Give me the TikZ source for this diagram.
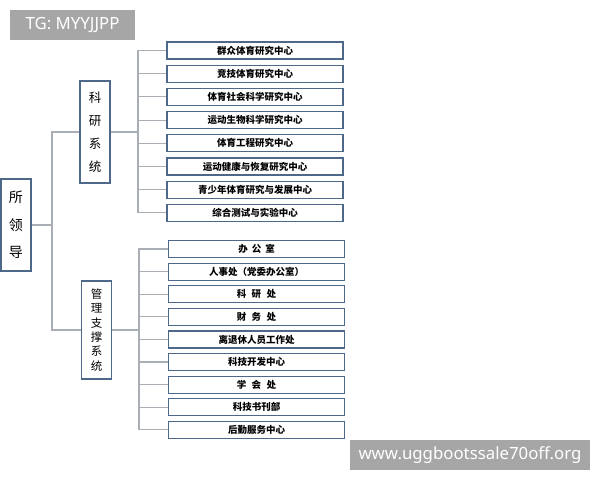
\documentclass[tikz,border=0pt]{standalone}
\usepackage{fontspec}
\newfontfamily\cjk{Noto Sans CJK SC}
\newfontfamily\wmfont{Noto Sans}
\definecolor{boxblue}{HTML}{4D6889}
\definecolor{linkgray}{HTML}{A9AEB4}
\definecolor{wmgray}{HTML}{A6A6A6}
\tikzset{
  leaf/.style={draw=boxblue, line width=1.2pt, fill=white, minimum width=176pt, minimum height=17pt, inner sep=0pt, font=\cjk\bfseries\fontsize{9.5}{10}\selectfont},
  sysbox/.style={draw=boxblue, line width=1.2pt, fill=white, minimum width=30pt, inner sep=0pt, align=center},
  link/.style={draw=linkgray, line width=1.1pt},
  mark box/.style={fill=wmgray, text=white, inner sep=0pt, font=\wmfont\fontsize{16.8}{17}\selectfont}
}
\begin{document}
\begin{tikzpicture}[x=1pt,y=-1pt]
\useasboundingbox (0,0) rectangle (600,480);
\node[mark box, minimum width=125pt, minimum height=30pt] (w1) at (72.5,25) {TG: MYYJJPP};
\node[mark box, minimum width=240pt, minimum height=30pt] (w2) at (470,455) {www.uggbootssale70off.org};
% leaders and systems
\node[sysbox, minimum height=92pt, font=\cjk\fontsize{14}{27.5}\selectfont] (s0) at (16,225) {所\\领\\导};
\node[sysbox, minimum height=102pt, font=\cjk\fontsize{12.5}{23}\selectfont] (s1) at (95,132) {科\\研\\系\\统};
\node[sysbox, minimum height=98pt, font=\cjk\fontsize{11.5}{14.3}\selectfont] (s2) at (96.5,330) {管\\理\\支\\撑\\系\\统};
% research centres
\node[leaf] (a1) at (255,50.5) {群众体育研究中心};
\node[leaf] (a2) at (255,73.7) {竞技体育研究中心};
\node[leaf] (a3) at (255,96.9) {体育社会科学研究中心};
\node[leaf] (a4) at (255,120.1) {运动生物科学研究中心};
\node[leaf] (a5) at (255,143.3) {体育工程研究中心};
\node[leaf] (a6) at (255,166.5) {运动健康与恢复研究中心};
\node[leaf] (a7) at (255,189.7) {青少年体育研究与发展中心};
\node[leaf] (a8) at (255,212.9) {综合测试与实验中心};
% support offices
\node[leaf] (b1) at (256.5,249) {办\hspace{4pt}公\hspace{4pt}室};
\node[leaf] (b2) at (256.5,271.6) {人事处（党委办公室）};
\node[leaf] (b3) at (256.5,294.2) {科\hspace{5.5pt}研\hspace{5.5pt}处};
\node[leaf] (b4) at (256.5,316.8) {财\hspace{5.5pt}务\hspace{5.5pt}处};
\node[leaf] (b5) at (256.5,339.4) {离退休人员工作处};
\node[leaf] (b6) at (256.5,362) {科技开发中心};
\node[leaf] (b7) at (256.5,384.6) {学\hspace{5.5pt}会\hspace{5.5pt}处};
\node[leaf] (b8) at (256.5,407.2) {科技书刊部};
\node[leaf] (b9) at (256.5,429.8) {后勤服务中心};
% junctions
\coordinate (j0) at (52,225);
\coordinate (j1) at (138,132);
\coordinate (j2) at (139,330);
\draw [link] (s0) -- (j0);
\draw [link] (j0) |- (s1);
\draw [link] (j0) |- (s2);
\draw [link] (s1) -- (j1);
\draw [link] (j1) |- (a1);
\draw [link] (j1) |- (a2);
\draw [link] (j1) |- (a3);
\draw [link] (j1) |- (a4);
\draw [link] (j1) |- (a5);
\draw [link] (j1) |- (a6);
\draw [link] (j1) |- (a7);
\draw [link] (j1) |- (a8);
\draw [link] (s2) -- (j2);
\draw [link] (j2) |- (b1);
\draw [link] (j2) |- (b2);
\draw [link] (j2) |- (b3);
\draw [link] (j2) |- (b4);
\draw [link] (j2) |- (b5);
\draw [link] (j2) |- (b6);
\draw [link] (j2) |- (b7);
\draw [link] (j2) |- (b8);
\draw [link] (j2) |- (b9);
\end{tikzpicture}
\end{document}
